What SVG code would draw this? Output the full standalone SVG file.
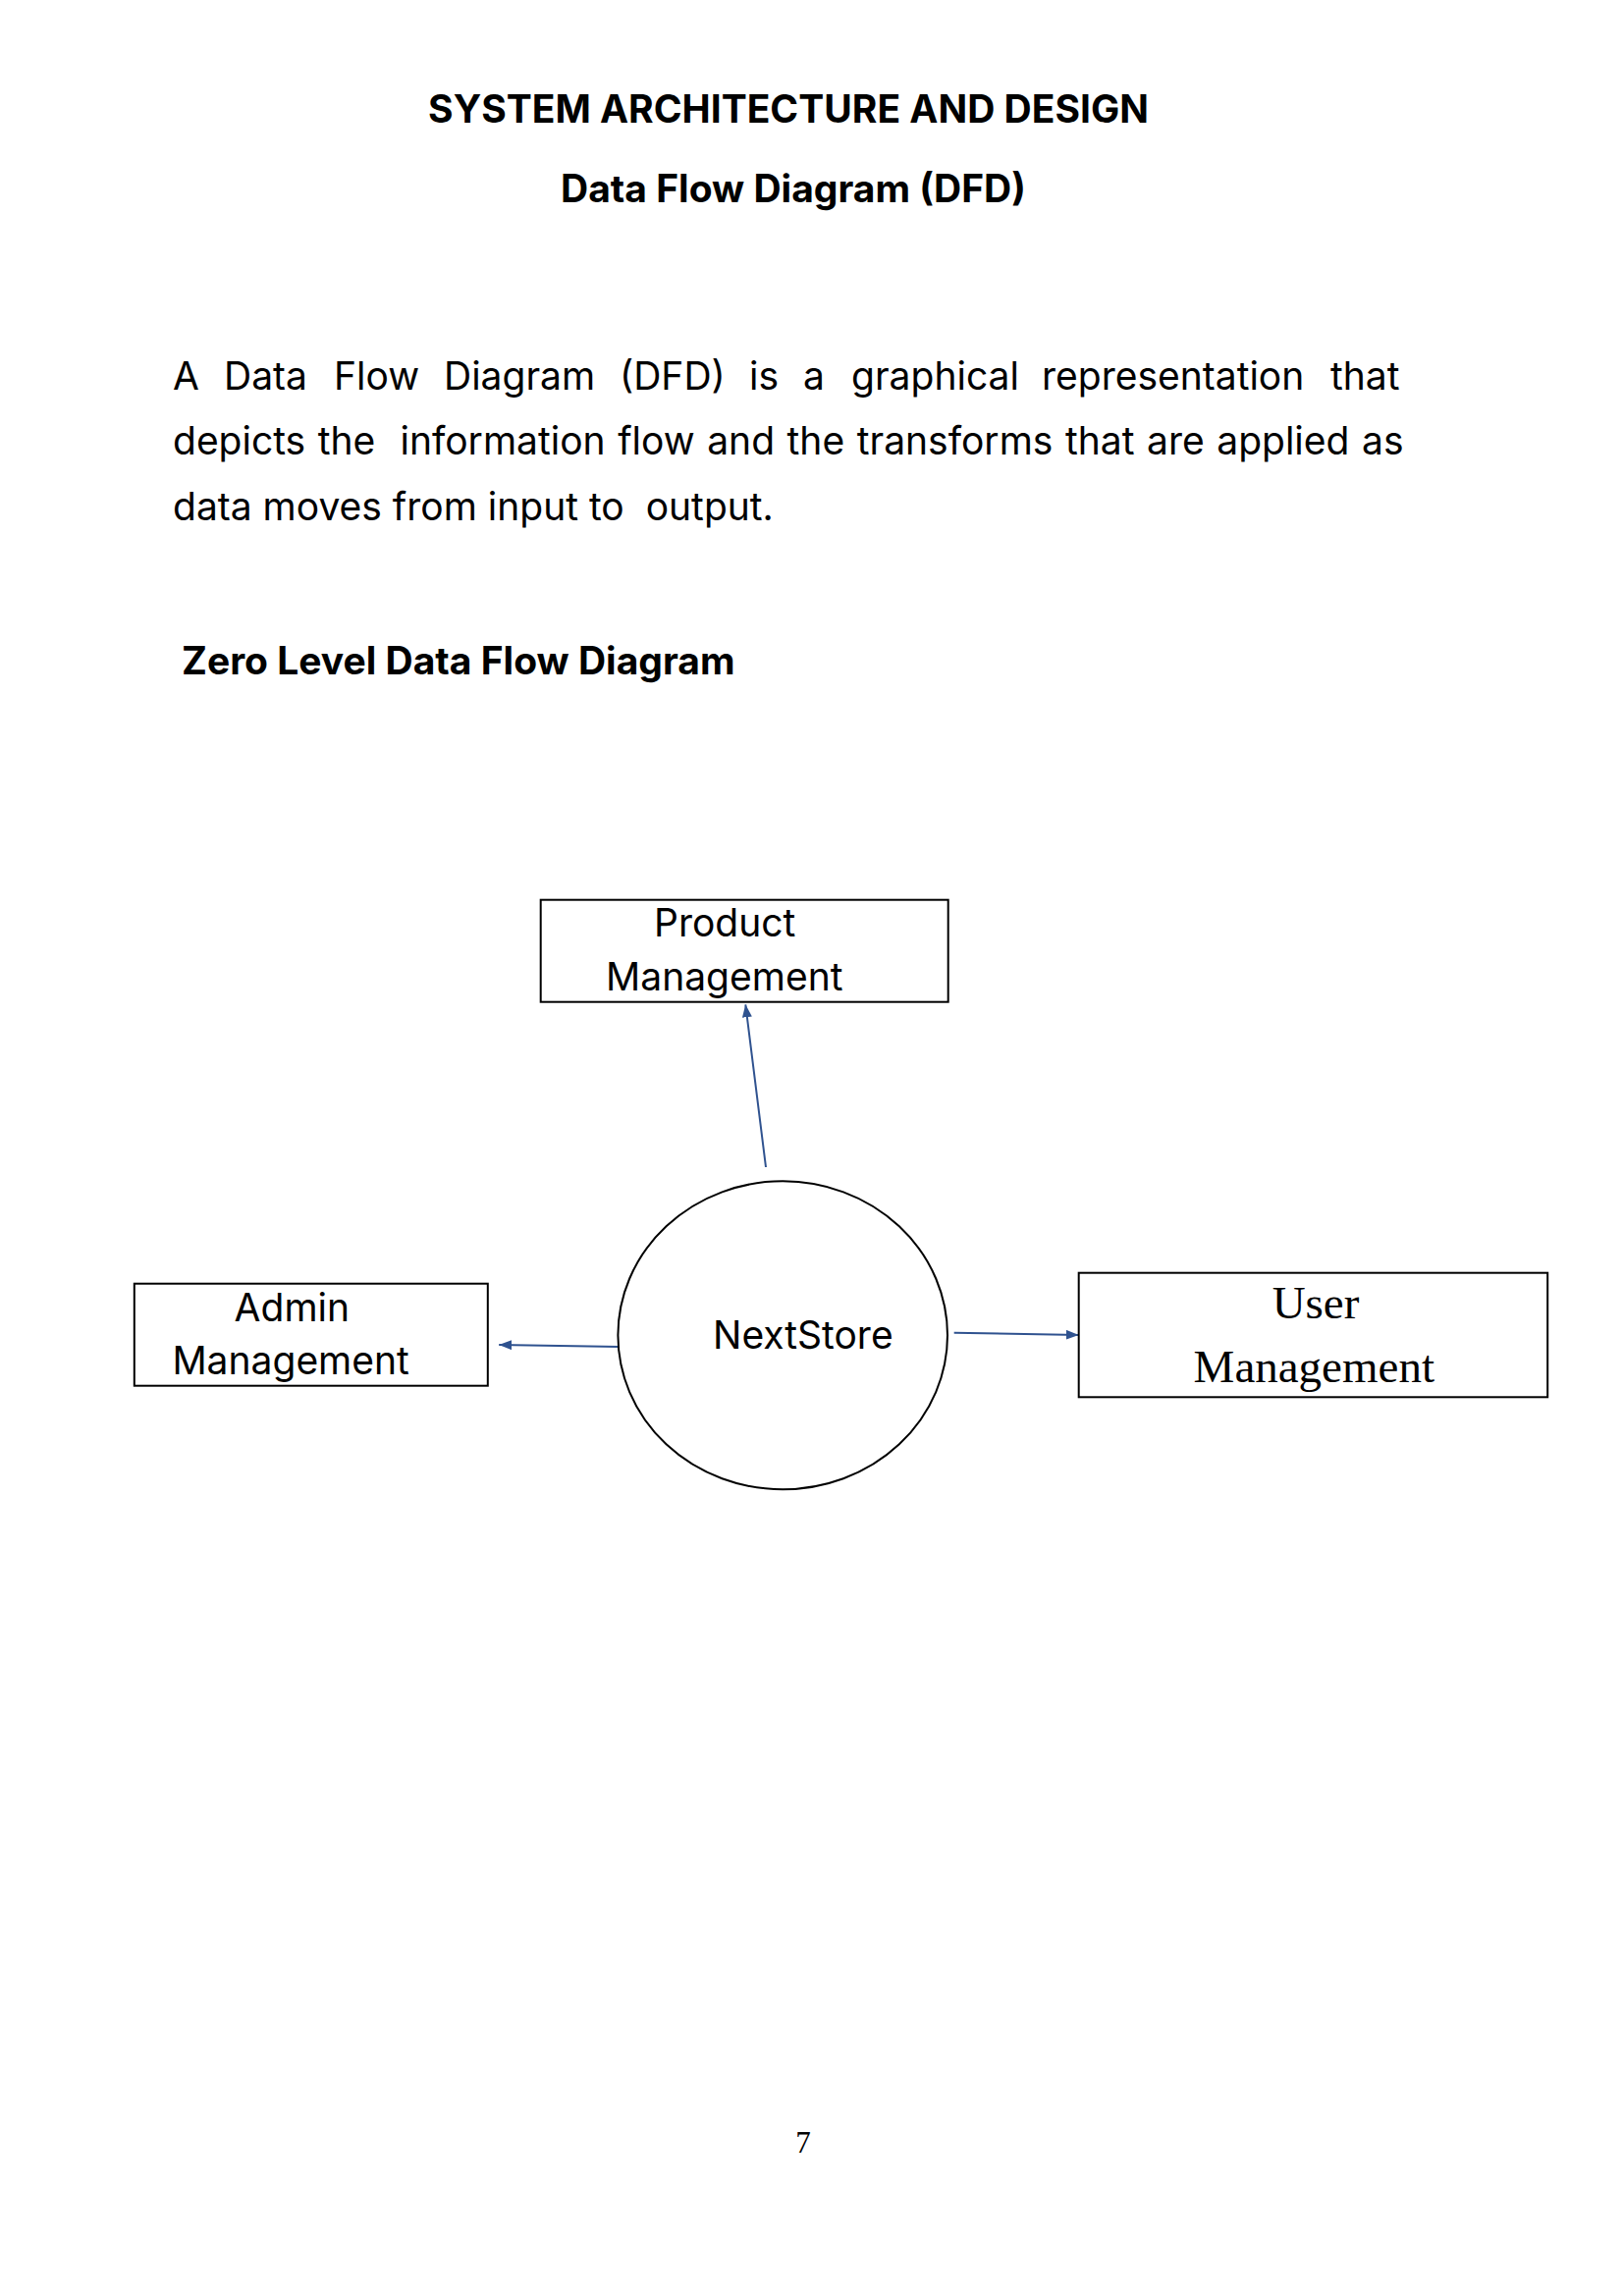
<svg xmlns="http://www.w3.org/2000/svg" width="1653" height="2339" viewBox="0 0 1653 2339">
<style>
.h{font-family:Inter,"Liberation Sans",sans-serif;font-weight:bold;font-size:39px;fill:#000}
.p{font-family:Inter,"Liberation Sans",sans-serif;font-size:39px;fill:#000}
.n{font-family:Inter,"Liberation Sans",sans-serif;font-size:39px;fill:#000}
.t{font-family:"Liberation Serif",serif;font-size:47px;fill:#000}
.box{fill:#fff;stroke:#000;stroke-width:2}
.flow{stroke:#2F528F;stroke-width:2;fill:none;marker-end:url(#ah)}
</style>
<defs>
<marker id="ah" markerUnits="userSpaceOnUse" markerWidth="14" markerHeight="10" refX="13" refY="5" orient="auto">
<path d="M0,0 L13,5 L0,10 z" fill="#2F528F"/>
</marker>
</defs>
<rect width="1653" height="2339" fill="#fff"/>
<text class="h" x="803" y="125" text-anchor="middle">SYSTEM ARCHITECTURE AND DESIGN</text>
<text class="h" x="808" y="205.7" text-anchor="middle">Data Flow Diagram (DFD)</text>
<text class="p" y="396.5"><tspan x="176">A</tspan><tspan x="228">Data</tspan><tspan x="340">Flow</tspan><tspan x="452">Diagram</tspan><tspan x="631">(DFD)</tspan><tspan x="763">is</tspan><tspan x="818">a</tspan><tspan x="867">graphical</tspan><tspan x="1061">representation</tspan><tspan x="1355">that</tspan></text>
<text class="p" x="176" y="463.3" xml:space="preserve" word-spacing="1.6">depicts the  information flow and the transforms that are applied as</text>
<text class="p" x="176" y="530" xml:space="preserve">data moves from input to  output.</text>
<text class="h" x="185" y="686.7">Zero Level Data Flow Diagram</text>
<g id="connectors">
<line class="flow" x1="780" y1="1189" x2="759.3" y2="1023.3"/>
<line class="flow" x1="630.7" y1="1372" x2="508.2" y2="1370"/>
<line class="flow" x1="971.7" y1="1357.7" x2="1098.7" y2="1360"/>
</g>
<g id="product">
<rect class="box" x="550.7" y="916.7" width="415" height="104"/>
<text class="n" x="666" y="954">Product</text>
<text class="n" x="617" y="1009">Management</text>
</g>
<g id="admin">
<rect class="box" x="136.8" y="1307.7" width="360" height="104"/>
<text class="n" x="238.6" y="1345.7">Admin</text>
<text class="n" x="175.4" y="1400.3">Management</text>
</g>
<g id="nextstore">
<ellipse cx="797.2" cy="1360.3" rx="167.8" ry="157" fill="#fff" stroke="#000" stroke-width="2"/>
<text class="n" x="726" y="1374.3">NextStore</text>
</g>
<g id="user">
<rect class="box" x="1098.7" y="1296.7" width="477.5" height="126.6"/>
<text class="t" x="1340" y="1342.7" text-anchor="middle">User</text>
<text class="t" x="1338.3" y="1408.3" text-anchor="middle">Management</text>
</g>
<text x="818" y="2193" text-anchor="middle" style="font-family:'Liberation Serif',serif;font-size:31px">7</text>
</svg>
